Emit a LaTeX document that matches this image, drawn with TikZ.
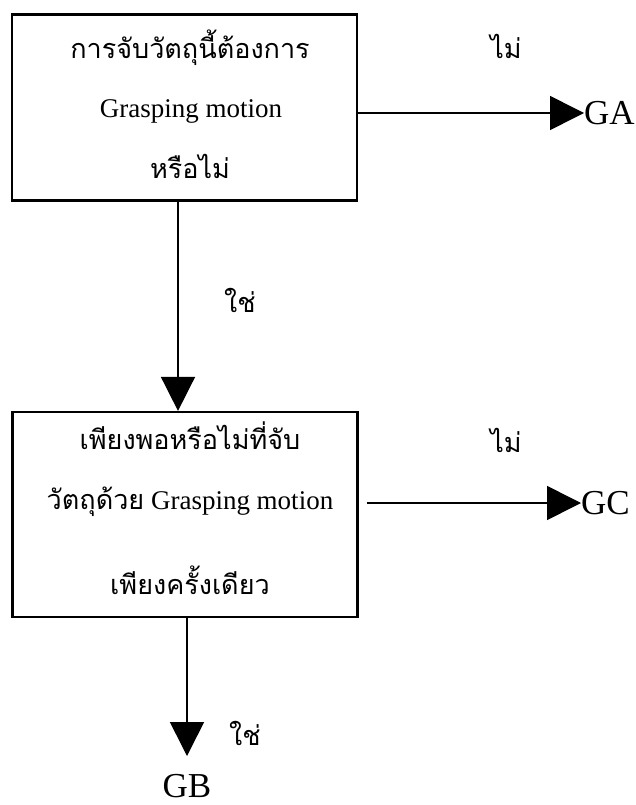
\documentclass[tikz,border=0pt]{standalone}
\usepackage{fontspec}
\setmainfont{Liberation Serif}
\newfontfamily\thaifont[Script=Thai]{Loma}
\usetikzlibrary{arrows.meta}
\tikzset{
  boxnode/.style={draw, line width=2.2pt, minimum width=345pt, minimum height=186pt, inner sep=0pt},
  txt/.style={font=\fontsize{27pt}{32pt}\selectfont, inner sep=0pt},
  lbl/.style={font=\fontsize{35pt}{40pt}\selectfont, inner sep=0pt},
  arr/.style={line width=1.6pt, -{Triangle[length=34pt,width=34pt]}}
}
\begin{document}
\begin{tikzpicture}[x=1pt,y=-1pt]
\useasboundingbox (0,0) rectangle (636,805);
% boxes
\node[boxnode] (b1) at (184.5,107.5) {};
\node[boxnode, minimum height=205pt] (b2) at (185,514.5) {};
% box 1 text
\node[txt] (t11) at (190,48) {\thaifont การจับวัตถุนี้ต้องการ};
\node[txt] (t12) at (191,111) {Grasping motion};
\node[txt] (t13) at (190,166) {\thaifont หรือไม่};
% box 2 text
\node[txt] (t21) at (190,436) {\thaifont เพียงพอหรือไม่ที่จับ};
\node[txt] (t22) at (190,502) {{\thaifont วัตถุด้วย} Grasping motion};
\node[txt] (t23) at (190,580) {\thaifont เพียงครั้งเดียว};
% outcome labels
\node[lbl, anchor=west] (GA) at (584,113) {GA};
\node[lbl, anchor=west] (GC) at (581,503) {GC};
\node[lbl, anchor=north] (GB) at (187,774) {GB};
% yes/no labels
\node[txt] (n1) at (506,46) {\thaifont ไม่};
\node[txt] (y1) at (240,300) {\thaifont ใช่};
\node[txt] (n2) at (506,440) {\thaifont ไม่};
\node[txt] (y2) at (245,733) {\thaifont ใช่};
% connectors
\coordinate (c1) at (178,0);
\coordinate (c2) at (187,0);
\draw[arr] (b1.east |- GA.west) -- (GA.west);
\draw[arr] ([xshift=8pt]b2.east |- GC.west) -- (GC.west);
\draw[arr] (b1.south -| c1) -- (b2.north -| c1);
\draw[arr] (b2.south -| c2) -- (c2 |- 0,756);
\end{tikzpicture}
\end{document}
